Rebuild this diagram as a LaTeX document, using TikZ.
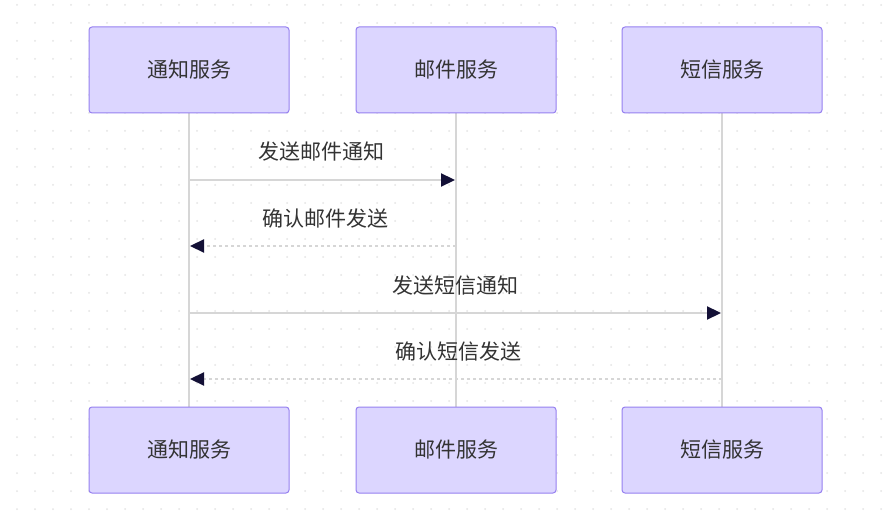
\documentclass[tikz,border=0pt]{standalone}
\usepackage{fontspec}
\setmainfont{Noto Sans CJK SC}
\usetikzlibrary{arrows.meta}
\definecolor{boxfill}{RGB}{220,214,255}
\definecolor{boxline}{RGB}{150,128,240}
\definecolor{lifeline}{RGB}{214,214,214}
\definecolor{headcol}{RGB}{19,16,54}
\definecolor{txtcol}{RGB}{51,51,51}
\definecolor{dotcol}{RGB}{228,228,228}
\tikzset{
  actor/.style={draw=boxline, line width=1pt, fill=boxfill, rounded corners=3pt,
    minimum width=200pt, minimum height=86pt, inner sep=0pt,
    font=\fontsize{21}{25}\selectfont, text=txtcol},
  life/.style={draw=lifeline, line width=2.2pt},
  msg/.style={draw=lifeline, line width=2.2pt, -{Triangle[length=14pt,width=13pt,color=headcol]}},
  reply/.style={msg, dash pattern=on 3pt off 3pt},
  lbl/.style={font=\fontsize{21}{25}\selectfont, text=txtcol, inner sep=0pt}
}
\begin{document}
\begin{tikzpicture}[x=1pt,y=-1pt]
\useasboundingbox (0,0) rectangle (892,521);
\fill[white] (0,0) rectangle (892,521);
\foreach \i in {0,...,49}{
  \foreach \j in {0,...,28}{
    \fill[dotcol] (17+18*\i,5+18*\j) circle (1pt);
  }
}
% lifelines
\coordinate (l1t) at (189,113); \coordinate (l1b) at (189,407);
\coordinate (l2t) at (456,113); \coordinate (l2b) at (456,407);
\coordinate (l3t) at (722,113); \coordinate (l3b) at (722,407);
\draw[life] (l1t) -- (l1b);
\draw[life] (l2t) -- (l2b);
\draw[life] (l3t) -- (l3b);
% actors
\node[actor] (a1) at (189,70) {通知服务};
\node[actor] (a2) at (456,70) {邮件服务};
\node[actor] (a3) at (722,70) {短信服务};
\node[actor] (b1) at (189,450) {通知服务};
\node[actor] (b2) at (456,450) {邮件服务};
\node[actor] (b3) at (722,450) {短信服务};
% message endpoints
\coordinate (m1s) at (190,180); \coordinate (m1e) at (455,180);
\coordinate (m2s) at (456,246); \coordinate (m2e) at (190,246);
\coordinate (m3s) at (190,313); \coordinate (m3e) at (721,313);
\coordinate (m4s) at (722,379); \coordinate (m4e) at (190,379);
\draw[msg] (m1s) -- (m1e);
\draw[reply] (m2s) -- (m2e);
\draw[msg] (m3s) -- (m3e);
\draw[reply] (m4s) -- (m4e);
\node[lbl] (t1) at (321,152) {发送邮件通知};
\node[lbl] (t2) at (325,219) {确认邮件发送};
\node[lbl] (t3) at (455,286) {发送短信通知};
\node[lbl] (t4) at (458,352) {确认短信发送};
\end{tikzpicture}
\end{document}
